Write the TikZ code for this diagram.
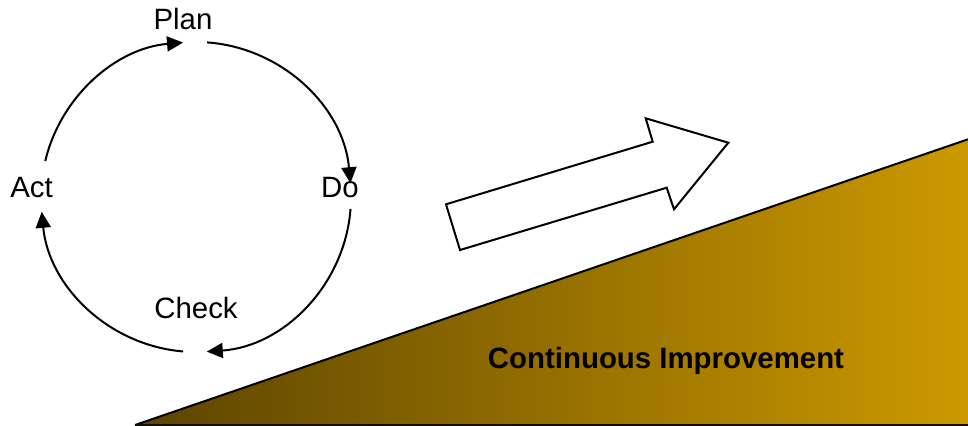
\documentclass[tikz,border=0pt]{standalone}
\usepackage{fontspec}
\setmainfont{Liberation Sans}
\usetikzlibrary{arrows.meta}
\definecolor{gdark}{HTML}{5C4400}
\definecolor{ggold}{HTML}{CC9900}
\begin{document}
\begin{tikzpicture}[x=0.5pt,y=0.5pt,
  lbl/.style={font=\fontsize{14.7pt}{16pt}\selectfont, inner sep=0pt, anchor=base},
  cyc/.style={line width=1pt, -{Triangle[length=8pt,width=7.5pt]}}]
\useasboundingbox (0,0) rectangle (968,425);
% slope triangle
\shade[left color=gdark, right color=ggold] (135,0) -- (968,285.7) -- (968,0) -- cycle;
\draw[line width=1pt] (135,0) -- (968,285.7);
\draw[line width=1pt, color=black!80!gdark] (135,0) -- (968,0);
\node[lbl, font=\fontsize{14.7pt}{16pt}\selectfont\bfseries] (ci) at (666,56.7) {Continuous Improvement};
% big arrow
\draw[line width=1pt, fill=white] (460,175) -- (446,220.7) -- (652.7,283.3) -- (645.7,306.7)
  -- (728.3,282.3) -- (674,215.7) -- (666.7,237.3) -- cycle;
% cycle
\coordinate (c) at (196,228);
\node[lbl] (plan) at (183,396) {Plan};
\node[lbl] (do) at (340,228) {Do};
\node[lbl] (act) at (31.5,228) {Act};
\node[lbl] (check) at (196,107) {Check};
\draw[cyc] ([shift={(166.6:155)}]c) arc[start angle=166.6, end angle=94.8, radius=155];
\draw[cyc] ([shift={(85.9:155)}]c) arc[start angle=85.9, end angle=5.1, radius=155];
\draw[cyc] ([shift={(-4.4:155)}]c) arc[start angle=-4.4, end angle=-86, radius=155];
\draw[cyc] ([shift={(-94.8:155)}]c) arc[start angle=-94.8, end angle=-174.5, radius=155];
\end{tikzpicture}
\end{document}
